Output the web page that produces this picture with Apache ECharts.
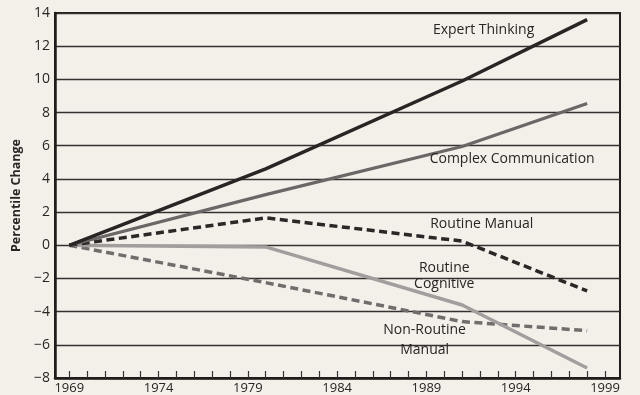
<!DOCTYPE html>
<html>
<head>
<meta charset="utf-8">
<script src="https://cdn.jsdelivr.net/npm/echarts@6/dist/echarts.min.js"></script>
<style>
html,body{margin:0;padding:0;background:#f3f0ea;}
#main{width:640px;height:395px;}
</style>
</head>
<body>
<div id="main"></div>
<script>
// ---- data ----
var years = [1969, 1980, 1991, 1998];
var expertThinking = [0, 4.6, 9.9, 13.6];
var complexCommunication = [0, 3.05, 5.95, 8.55];
var routineManual = [0, 1.65, 0.25, -2.75];
var routineCognitive = [0, -0.1, -3.6, -7.4];
var nonRoutineManual = [0, -2.25, -4.6, -5.15];
var xTickLabels = [1969, 1974, 1979, 1984, 1989, 1994, 1999];
var xTicks = [];
for (var y = 1969; y <= 1999; y++) xTicks.push(y);
// label anchors (data space)
var labelExpert = [1992.2, 12.98];
var labelComplex = [1993.8, 5.18];
var labelRoutineManual = [1992.1, 1.27];
var labelRoutineCognitive = [1990.0, -1.84];
var labelNonRoutine = [1988.9, -5.69];

function pairs(vals){ return years.map(function(yr,i){ return [yr, vals[i]]; }); }

var FONT = 'Open Sans';
var TXT = '#2a2424';

function mk(coord, text, lh){
  return {
    symbol: 'circle', symbolSize: 0, silent: true, animation: false,
    data: [{ coord: coord, value: text }],
    label: { show: true, position: 'inside', formatter: text, color: TXT,
      fontFamily: FONT, fontSize: 14, lineHeight: lh || 16 }
  };
}

function line(name, vals, color, width, dashed, label, lh){
  return {
    name: name, type: 'line', data: pairs(vals), symbol: 'none',
    lineStyle: { color: color, width: width, type: dashed ? [8, 4.5] : 'solid', cap: 'butt' },
    markPoint: mk(label[0], label[1], lh),
    z: 3
  };
}

var chart = echarts.init(document.getElementById('main'), null, {renderer: 'canvas'});
chart.setOption({
  backgroundColor: '#f3f0ea',
  animation: false,
  grid: { left: 55, right: 20, top: 13, bottom: 17, show: true, borderColor: '#221d1d', borderWidth: 2, backgroundColor: 'transparent' },
  xAxis: {
    type: 'value', min: 1968.2, max: 1999.84,
    axisLine: { show: true, onZero: false, lineStyle: { color: '#221d1d', width: 2.5 } },
    axisTick: { show: true, inside: true, length: 7, customValues: xTicks, lineStyle: { color: '#3a3333', width: 1.2 } },
    axisLabel: { customValues: xTickLabels, color: TXT, fontFamily: FONT, fontSize: 13, margin: 4, formatter: function(v){ return String(v); } },
    splitLine: { show: false }
  },
  yAxis: {
    type: 'value', min: -8, max: 14, interval: 2,
    name: 'Percentile Change', nameLocation: 'middle', nameGap: 31,
    nameTextStyle: { color: TXT, fontFamily: FONT, fontSize: 12.5, fontWeight: 'bold' },
    axisLine: { show: true, lineStyle: { color: '#221d1d', width: 2.5 } },
    axisTick: { show: false },
    axisLabel: { color: TXT, fontFamily: FONT, fontSize: 14, margin: 5,
      formatter: function(v){ return v < 0 ? '\u2212' + Math.abs(v) : String(v); } },
    splitLine: { show: true, lineStyle: { color: '#353030', width: 1.3 } }
  },
  series: [
    line('Non-Routine Manual', nonRoutineManual, '#726c6c', 3.5, true, [labelNonRoutine, 'Non-Routine\nManual'], 20),
    line('Routine Cognitive', routineCognitive, '#a39e9d', 3.5, false, [labelRoutineCognitive, 'Routine\nCognitive'], 16),
    line('Routine Manual', routineManual, '#2c2727', 3.5, true, [labelRoutineManual, 'Routine Manual']),
    line('Complex Communication', complexCommunication, '#6c6667', 3.2, false, [labelComplex, 'Complex Communication']),
    line('Expert Thinking', expertThinking, '#2a2425', 3.5, false, [labelExpert, 'Expert Thinking'])
  ]
});
</script>
</body>
</html>
